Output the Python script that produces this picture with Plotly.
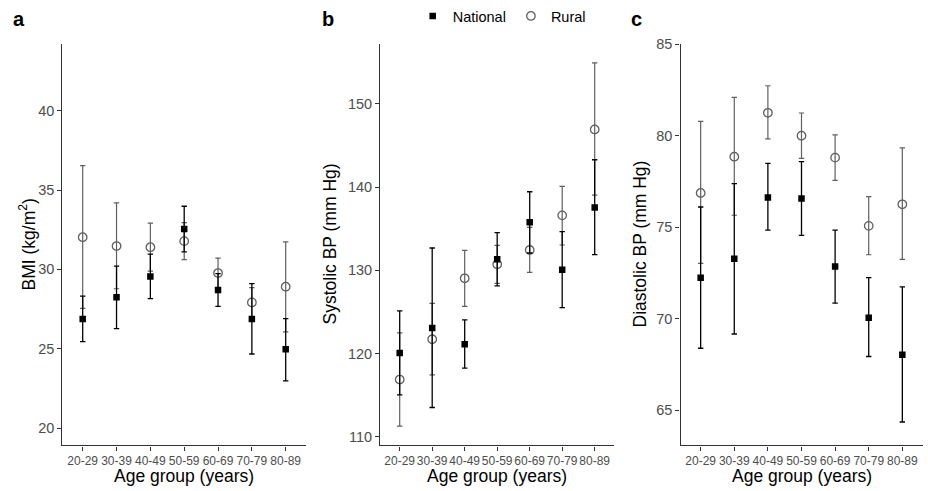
import plotly.graph_objects as go

age_groups = ["20-29", "30-39", "40-49", "50-59", "60-69", "70-79", "80-89"]

# Panel a: BMI (kg/m2)
bmi_nat_mean = [26.88, 28.24, 29.56, 32.54, 28.70, 26.87, 24.97]
bmi_nat_low = [25.45, 26.27, 28.16, 31.10, 27.67, 24.67, 22.97]
bmi_nat_up = [28.32, 30.21, 30.96, 33.98, 29.73, 29.10, 26.90]
bmi_rur_mean = [32.03, 31.47, 31.40, 31.78, 29.77, 27.92, 28.91]
bmi_rur_low = [27.55, 28.78, 29.89, 30.61, 28.83, 26.99, 26.06]
bmi_rur_up = [36.54, 34.19, 32.91, 32.95, 30.71, 28.85, 31.74]

# Panel b: Systolic BP (mm Hg)
sbp_nat_mean = [120.08, 123.08, 121.12, 131.32, 135.76, 130.08, 137.56]
sbp_nat_low = [115.04, 113.52, 118.24, 128.12, 132.08, 125.52, 131.88]
sbp_nat_up = [125.12, 132.68, 124.04, 134.52, 139.44, 134.64, 143.28]
sbp_rur_mean = [116.88, 121.72, 129.04, 130.72, 132.44, 136.60, 146.92]
sbp_rur_low = [111.28, 117.44, 125.68, 128.44, 129.76, 133.04, 139.04]
sbp_rur_up = [122.48, 126.04, 132.40, 133.00, 135.16, 140.09, 154.92]

# Panel c: Diastolic BP (mm Hg)
dbp_nat_mean = [72.24, 73.27, 76.62, 76.56, 72.85, 70.05, 68.02]
dbp_nat_low = [68.38, 69.16, 74.84, 74.55, 70.85, 67.93, 64.35]
dbp_nat_up = [76.10, 77.38, 78.49, 78.58, 74.84, 72.24, 71.73]
dbp_rur_mean = [76.87, 78.85, 81.25, 80.00, 78.80, 75.07, 76.25]
dbp_rur_low = [73.02, 75.65, 79.82, 78.76, 77.56, 73.49, 73.24]
dbp_rur_up = [80.78, 82.09, 82.73, 81.24, 80.04, 76.67, 79.33]

panel_letters = ["a", "b", "c"]
y_titles = ["BMI (kg/m<sup>2</sup>)", "Systolic BP (mm Hg)", "Diastolic BP (mm Hg)"]
x_title = "Age group (years)"
y_tickvals = [[20, 25, 30, 35, 40], [110, 120, 130, 140, 150], [65, 70, 75, 80, 85]]

W, H = 928, 491
FONT = "Liberation Sans, Arial, sans-serif"
panels = [
    dict(nat=(bmi_nat_mean, bmi_nat_low, bmi_nat_up), rur=(bmi_rur_mean, bmi_rur_low, bmi_rur_up),
         xpx=(62.4, 306.0), yr=[18.91, 44.19], ytitle_x=27, letter_x=18.5),
    dict(nat=(sbp_nat_mean, sbp_nat_low, sbp_nat_up), rur=(sbp_rur_mean, sbp_rur_low, sbp_rur_up),
         xpx=(380.2, 614.2), yr=[108.97, 157.16], ytitle_x=330, letter_x=327.5),
    dict(nat=(dbp_nat_mean, dbp_nat_low, dbp_nat_up), rur=(dbp_rur_mean, dbp_rur_low, dbp_rur_up),
         xpx=(680.5, 922.5), yr=[63.07, 85.0], ytitle_x=640, letter_x=636),
]
y_dom = [1 - 445.3 / H, 1 - 43.3 / H]

fig = go.Figure()
annotations = []
NAT_COL = "#000000"
RUR_COL = "#5f5f5f"

for i, p in enumerate(panels):
    sfx = "" if i == 0 else str(i + 1)
    xa, ya = "x" + sfx, "y" + sfx
    nm, nl, nu = p["nat"]
    rm, rl, ru = p["rur"]
    fig.add_trace(go.Scatter(
        x=age_groups, y=rm, mode="markers", name="Rural", legendgroup="Rural",
        showlegend=(i == 0), legendrank=2,
        marker=dict(symbol="circle-open", size=8.5, color=RUR_COL, line=dict(width=1.3, color=RUR_COL)),
        error_y=dict(type="data", symmetric=False,
                     array=[u - m for u, m in zip(ru, rm)],
                     arrayminus=[m - l for m, l in zip(rm, rl)],
                     color=RUR_COL, thickness=1.2, width=2.7),
        xaxis=xa, yaxis=ya))
    fig.add_trace(go.Scatter(
        x=age_groups, y=nm, mode="markers", name="National", legendgroup="National",
        showlegend=(i == 0), legendrank=1,
        marker=dict(symbol="square", size=6.5, color=NAT_COL),
        error_y=dict(type="data", symmetric=False,
                     array=[u - m for u, m in zip(nu, nm)],
                     arrayminus=[m - l for m, l in zip(nm, nl)],
                     color=NAT_COL, thickness=1.3, width=2.7),
        xaxis=xa, yaxis=ya))

    axis_common = dict(showline=True, linecolor="#333333", linewidth=1.3, ticks="outside",
                       ticklen=4, tickcolor="#333333", tickwidth=1, showgrid=False,
                       zeroline=False, automargin=False)
    fig.update_layout(**{
        "xaxis" + sfx: dict(axis_common, domain=[p["xpx"][0] / W, p["xpx"][1] / W],
                            range=[-0.6, 6.6], type="category", tickangle=0,
                            categoryorder="array", categoryarray=age_groups,
                            tickfont=dict(family=FONT, size=12, color="#4D4D4D"),
                            anchor=ya),
        "yaxis" + sfx: dict(axis_common, domain=y_dom, range=p["yr"], tickmode="array",
                            tickvals=y_tickvals[i],
                            tickfont=dict(family=FONT, size=14.5, color="#4D4D4D"),
                            anchor=xa),
    })
    # y axis title
    annotations.append(dict(text=y_titles[i], xref="paper", yref="paper",
                            x=p["ytitle_x"] / W, y=1 - 244 / H, xanchor="center", yanchor="middle",
                            textangle=-90, showarrow=False,
                            font=dict(family=FONT, size=17.5, color="#000000")))
    # x axis title
    annotations.append(dict(text=x_title, xref="paper", yref="paper",
                            x=(p["xpx"][0] + p["xpx"][1]) / 2 / W, y=1 - 476 / H,
                            xanchor="center", yanchor="middle", showarrow=False,
                            font=dict(family=FONT, size=17.5, color="#000000")))
    # panel letter
    annotations.append(dict(text="<b>" + panel_letters[i] + "</b>", xref="paper", yref="paper",
                            x=p["letter_x"] / W, y=1 - 18 / H, xanchor="center", yanchor="middle",
                            showarrow=False, font=dict(family=FONT, size=20, color="#000000")))

fig.update_layout(
    width=W, height=H,
    margin=dict(l=0, r=0, t=0, b=0),
    paper_bgcolor="white", plot_bgcolor="white",
    annotations=annotations,
    showlegend=True,
    legend=dict(orientation="h", x=412.7 / W, xanchor="left", y=1 - 15 / H, yanchor="middle",
                font=dict(family=FONT, size=14.5, color="#000000"),
                bgcolor="rgba(0,0,0,0)", borderwidth=0, itemclick=False),
    font=dict(family=FONT),
)

fig.write_html("out.html",
               config={"displayModeBar": False},
               post_script="document.body.style.margin='0';document.body.style.padding='0';"
                           "document.documentElement.style.overflow='hidden';")
